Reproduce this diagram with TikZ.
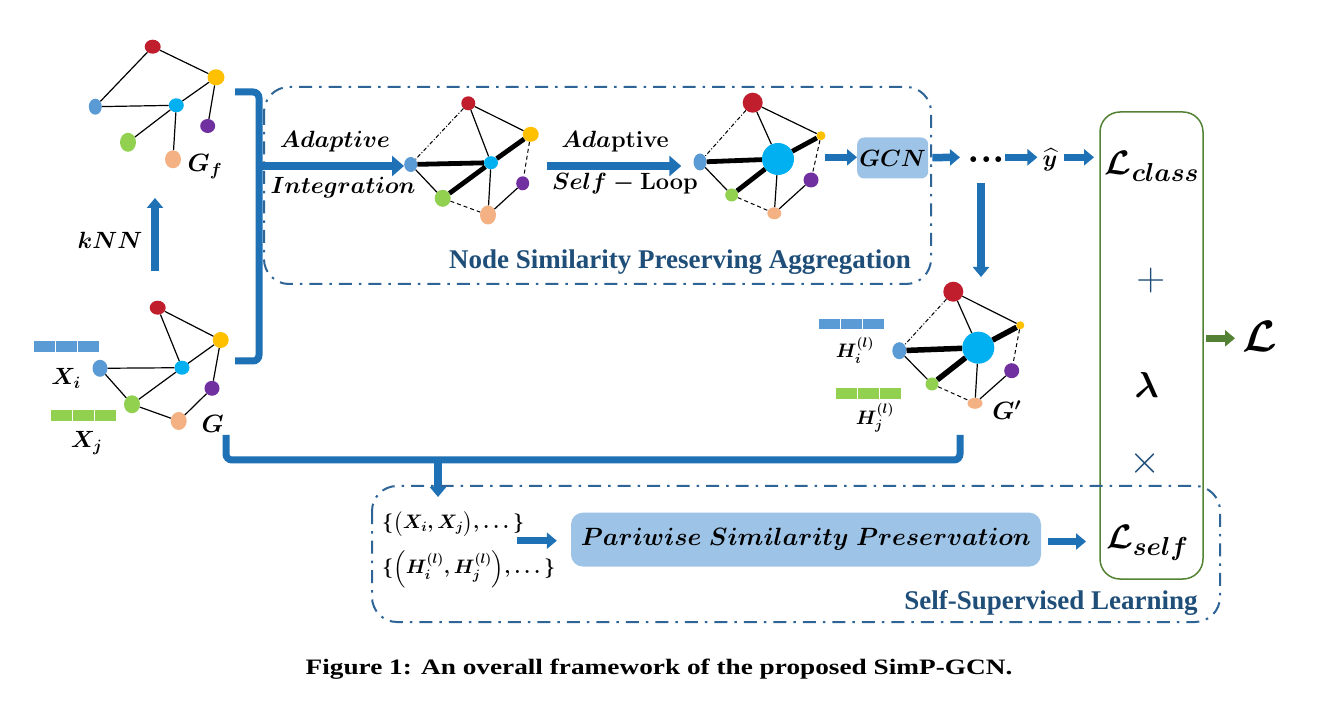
\RequirePackage{fix-cm}
\documentclass[tikz,border=0pt]{standalone}
\usepackage{fontspec}
\usepackage{amsmath,bm}
\usetikzlibrary{arrows.meta,shapes.geometric}
\newfontfamily\capfont{Liberation Serif}
\definecolor{cred}{RGB}{192,30,45}
\definecolor{cyel}{RGB}{255,192,0}
\definecolor{cblu}{RGB}{91,155,213}
\definecolor{ccya}{RGB}{0,176,240}
\definecolor{cpur}{RGB}{112,48,160}
\definecolor{cgrn}{RGB}{146,208,80}
\definecolor{cpea}{RGB}{244,177,131}
\definecolor{arrblue}{RGB}{31,113,182}
\definecolor{boxblue}{RGB}{46,100,150}
\definecolor{labblue}{RGB}{31,78,121}
\definecolor{gcnfill}{RGB}{157,195,230}
\definecolor{lgreen}{RGB}{84,130,53}
\newcommand{\losslab}[1]{{\fontsize{34}{38}\selectfont$\mathcal{L}$}\raisebox{-7pt}{\fontsize{26}{30}\selectfont$#1$}}
\begin{document}
\begin{tikzpicture}[x=1pt,y=-1pt,
 vtx/.style={ellipse, inner sep=0pt, draw=none},
 vr/.style={vtx, fill=cred}, vy/.style={vtx, fill=cyel}, vb/.style={vtx, fill=cblu},
 vc/.style={vtx, fill=ccya}, vp/.style={vtx, fill=cpur}, vg/.style={vtx, fill=cgrn},
 vo/.style={vtx, fill=cpea},
 sz/.style 2 args={minimum width=#1pt, minimum height=#2pt},
 thinedge/.style={line width=1.2pt},
 thickedge/.style={line width=4.8pt},
 ddedge/.style={line width=1pt, dash pattern=on 4pt off 2pt on 1pt off 2pt},
 dashedge/.style={line width=1pt, dash pattern=on 4pt off 3pt},
 bigarrow/.style={draw=arrblue, line width=8pt, -{Triangle[length=12pt,width=20pt]}},
 smallarrow/.style={draw=arrblue, line width=7.5pt, -{Triangle[length=10pt,width=16pt]}},
 ddbox/.style={draw=boxblue, line width=2pt, rounded corners=25pt, dash pattern=on 13pt off 7pt on 2.5pt off 7pt},
 thickline/.style={draw=arrblue, line width=7pt, rounded corners=6pt},
 mlab/.style={inner sep=0pt, font=\fontsize{23.5}{27}\selectfont\boldmath},
 glab/.style={inner sep=0pt, font=\fontsize{25}{28}\selectfont\boldmath},
 hlab/.style={inner sep=0pt, font=\fontsize{19.5}{23}\selectfont\boldmath},
 llab/.style={inner sep=0pt, font=\fontsize{28}{32}\selectfont\boldmath},
 bluelab/.style={inner sep=0pt, text=labblue, font=\fontsize{27}{30}\selectfont\capfont\bfseries},
 opsym/.style={inner sep=0pt, text=labblue, font=\fontsize{40}{44}\selectfont},
 fillbox/.style={fill=gcnfill, draw=none, rounded corners=7pt, inner sep=0pt},
]
\useasboundingbox (0,0) rectangle (1318,708);
\fill[white] (0,0) rectangle (1318,708);

% ---------------- G_f graph
\node[vr, sz={16}{14}] (f1) at (152.7,46.7) {};
\node[vy, sz={17}{16}] (f2) at (216,77.3) {};
\node[vb, sz={13}{16}] (f3) at (95.3,106.7) {};
\node[vc, sz={15}{14}] (f4) at (176.3,105.3) {};
\node[vp, sz={15}{14}] (f5) at (207.7,126) {};
\node[vg, sz={16}{19}] (f6) at (128,142.3) {};
\node[vo, sz={16}{18}] (f7) at (173,159.3) {};
\draw[thinedge] (f1) -- (f2) (f1) -- (f3) (f3) -- (f4) (f4) -- (f2) (f2) -- (f5) (f4) -- (f6) (f4) -- (f7);
\node[glab] (lgf) at (205,166.7) {$G_f$};

% ---------------- G graph
\node[vr, sz={16}{14}] (g1) at (157.7,307.7) {};
\node[vy, sz={16}{16}] (g2) at (220.7,340) {};
\node[vb, sz={15}{17}] (g3) at (100,368.3) {};
\node[vc, sz={15}{14}] (g4) at (182,367.7) {};
\node[vp, sz={15}{15}] (g5) at (212,388.3) {};
\node[vg, sz={16}{18}] (g6) at (132,404.3) {};
\node[vo, sz={16}{18}] (g7) at (178.7,421) {};
\draw[thinedge] (g1) -- (g2) (g1) -- (g4) (g3) -- (g4) (g4) -- (g2) (g2) -- (g5) (g3) -- (g6) (g6) -- (g4) (g6) -- (g7) (g7) -- (g5);
\node[glab] (lg) at (212.7,424) {$G$};

% feature bars X
\foreach \k in {0,1,2} {
  \fill[cblu] ({34.3+\k*22},341) rectangle +(21,10.7);
  \fill[cgrn] ({50.7+\k*22},410) rectangle +(21,10.7);
}
\node[mlab] (lxi) at (66,378.3) {$X_i$};
\node[mlab] (lxj) at (86.7,443.3) {$X_j$};

% kNN
\coordinate (knnlow) at (155,271);
\coordinate (knnhigh) at (155,198);
\draw[smallarrow] (knnlow) -- (knnhigh);
\node[mlab] (lknn) at (110,240) {$kNN$};

% bracket
\draw[thickline] (235,92) -- (259,92) -- (259,361) -- (235,361);

% ---------------- top dash-dot box
\draw[ddbox] (264,87) rectangle (931,284);
\node[bluelab] (lnsp) at (680,262) {Node Similarity Preserving Aggregation};

% ---------------- graph a (after adaptive integration)
\node[vr, sz={14}{14}] (a1) at (468.3,103.3) {};
\node[vy, sz={16}{15}] (a2) at (530.7,134.3) {};
\node[vb, sz={13}{15}] (a3) at (410.7,164.5) {};
\node[vc, sz={14}{13}] (a4) at (491,162.7) {};
\node[vp, sz={13}{14}] (a5) at (522.7,183.3) {};
\node[vg, sz={16}{17}] (a6) at (442.7,198.3) {};
\node[vo, sz={16}{19}] (a7) at (488,215) {};
\draw[ddedge] (a1) -- (a3);
\draw[thinedge] (a1) -- (a4) (a1) -- (a2) (a3) -- (a6) (a4) -- (a7) (a7) -- (a5);
\draw[thickedge] (a3) -- (a4) (a4) -- (a2) (a6) -- (a4);
\draw[dashedge] (a2) -- (a5) (a6) -- (a7);

\coordinate (brk) at (262,166);
\draw[bigarrow] (brk) -- (brk -| a3.west);
\node[mlab] (lad1) at (335,141.7) {$Adaptive$};
\node[mlab] (lint) at (343,188) {$Integration$};

% ---------------- graph b (after adaptive self-loop)
\node[vr, sz={20}{20}] (b1) at (752.7,102.7) {};
\node[vy, sz={9}{9}] (b2) at (821,135.7) {};
\node[vb, sz={13}{17}] (b3) at (700,162) {};
\node[vc, sz={32}{32}] (b4) at (778,159) {};
\node[vp, sz={15}{15}] (b5) at (811,180) {};
\node[vg, sz={13}{13}] (b6) at (731.7,195) {};
\node[vo, sz={14}{12}] (b7) at (774.3,213.3) {};
\draw[ddedge] (b1) -- (b3);
\draw[thinedge] (b1) -- (b4) (b1) -- (b2) (b3) -- (b6) (b4) -- (b7) (b7) -- (b5);
\draw[thickedge] (b3) -- (b4) (b4) -- (b2) (b6) -- (b4);
\draw[dashedge] (b2) -- (b5) (b6) -- (b7);

\coordinate (sl0) at (546.7,166);
\draw[bigarrow, shorten >=12pt] (sl0) -- (sl0 -| b3.west);
\node[mlab] (lad2) at (615,141.7) {$Ada$\textbf{ptive}};
\node[mlab] (lsl) at (625,184) {$Self-\mathbf{Loop}$};

% GCN
\node[fillbox, minimum width=71pt, minimum height=41pt] (gcn) at (892.7,158) {};
\node[mlab] (lgcn) at (gcn) {$GCN$};
\coordinate (g0) at (825,157.3);
\draw[smallarrow] (g0) -- (g0 -| gcn.west);

% dots, yhat
\node[inner sep=0pt, font=\fontsize{40}{44}\selectfont\bfseries] (dots) at (986.7,160) {...};
\draw[smallarrow, shorten <=4pt, shorten >=3pt] (gcn) -- (963,157.3);
\node[mlab] (yhat) at (1050,160) {$\widehat{y}$};
\coordinate (d1) at (1005,157.3);
\draw[smallarrow, shorten >=5pt] (d1) -- (d1 -| yhat.west);
\coordinate (dd0) at (981,183);
\coordinate (dd1) at (981,277);
\draw[smallarrow] (dd0) -- (dd1);

% ---------------- green loss box
\draw[lgreen, line width=1.5pt, rounded corners=20pt] (1100,112) rectangle (1203,579);
\node[inner sep=0pt, font=\boldmath] (lcls) at (1151.7,166) {\losslab{class}};
\coordinate (y1) at (1094,157.3);
\draw[smallarrow, shorten <=6pt] (y1 -| yhat.east) -- (y1);
\node[opsym] (plus) at (1150.7,281) {$+$};
\node[inner sep=0pt, font=\fontsize{36}{40}\selectfont\boldmath] (lam) at (1146.7,385) {$\lambda$};
\node[opsym] (times) at (1145,463.3) {$\times$};
\node[inner sep=0pt, font=\boldmath] (lslf) at (1147,543) {\losslab{self}};
\coordinate (ga0) at (1206,338.3);
\node[inner sep=0pt, font=\fontsize{44}{48}\selectfont\boldmath] (ltot) at (1260,336) {$\mathcal{L}$};
\draw[draw=lgreen, line width=7.5pt, -{Triangle[length=10pt,width=16pt]}] (ga0) -- (1235,338.3);

% ---------------- G' graph
\node[vr, sz={20}{20}] (c1) at (953.3,291.7) {};
\node[vy, sz={8}{8}] (c2) at (1020.3,325.3) {};
\node[vb, sz={14}{17}] (c3) at (899.3,350.7) {};
\node[vc, sz={32}{32}] (c4) at (978.3,347.7) {};
\node[vp, sz={15}{15}] (c5) at (1011.7,370.7) {};
\node[vg, sz={13}{13}] (c6) at (932,384) {};
\node[vo, sz={15}{11}] (c7) at (975,403.3) {};
\draw[ddedge] (c1) -- (c3);
\draw[thinedge] (c1) -- (c4) (c1) -- (c2) (c3) -- (c6) (c4) -- (c7) (c7) -- (c5);
\draw[thickedge, line width=5.5pt] (c3) -- (c4) (c4) -- (c2) (c6) -- (c4);
\draw[dashedge] (c2) -- (c5) (c6) -- (c7);
\node[glab] (lgp) at (1006.7,410) {$G^{\prime}$};
\foreach \k in {0,1,2} {
  \fill[cblu] ({819.3+\k*22},319) rectangle +(21,10.5);
  \fill[cgrn] ({836+\k*22},388.3) rectangle +(21,10.5);
}
\node[hlab] (lhi) at (855,350) {$H_i^{(l)}$};
\node[hlab] (lhj) at (875,418) {$H_j^{(l)}$};

% ---------------- bottom connector
\draw[thickline] (226,435) -- (226,460) -- (960,460) -- (960,435);
\coordinate (u0) at (438,458);
\coordinate (u1) at (438,497);
\draw[smallarrow] (u0) -- (u1);

% ---------------- bottom dash-dot box
\draw[ddbox] (372,486) rectangle (1220,622);
\node[bluelab] (lssl) at (1051,603) {Self-Supervised Learning};
\node[hlab, anchor=west] (pair1) at (382,524) {$\{\bigl(X_i,X_j\bigr),\dots\}$};
\node[hlab, anchor=west] (pair2) at (382,569) {$\{\Bigl(H_i^{(l)},H_j^{(l)}\Bigr),\dots\}$};
\node[fillbox, rounded corners=12pt, minimum width=470pt, minimum height=54pt] (psp) at (806,539.6) {};
\node[inner sep=0pt, font=\fontsize{25}{28}\selectfont\boldmath] (lpsp) at (psp) {$Pariwise\ Similarity\ Preservation$};
\coordinate (p0) at (517,540.7);
\draw[smallarrow, shorten >=14pt] (p0) -- (p0 -| psp.west);
\coordinate (p1) at (1086,541.5);
\draw[smallarrow, shorten <=7pt] (p1 -| psp.east) -- (p1);

% ---------------- caption
\node[inner sep=0pt, font=\fontsize{22}{25}\selectfont\capfont\bfseries] (cap) at (659,669) {\scalebox{1.24}[1]{Figure 1: An overall framework of the proposed SimP-GCN.}};
\end{tikzpicture}
\end{document}
